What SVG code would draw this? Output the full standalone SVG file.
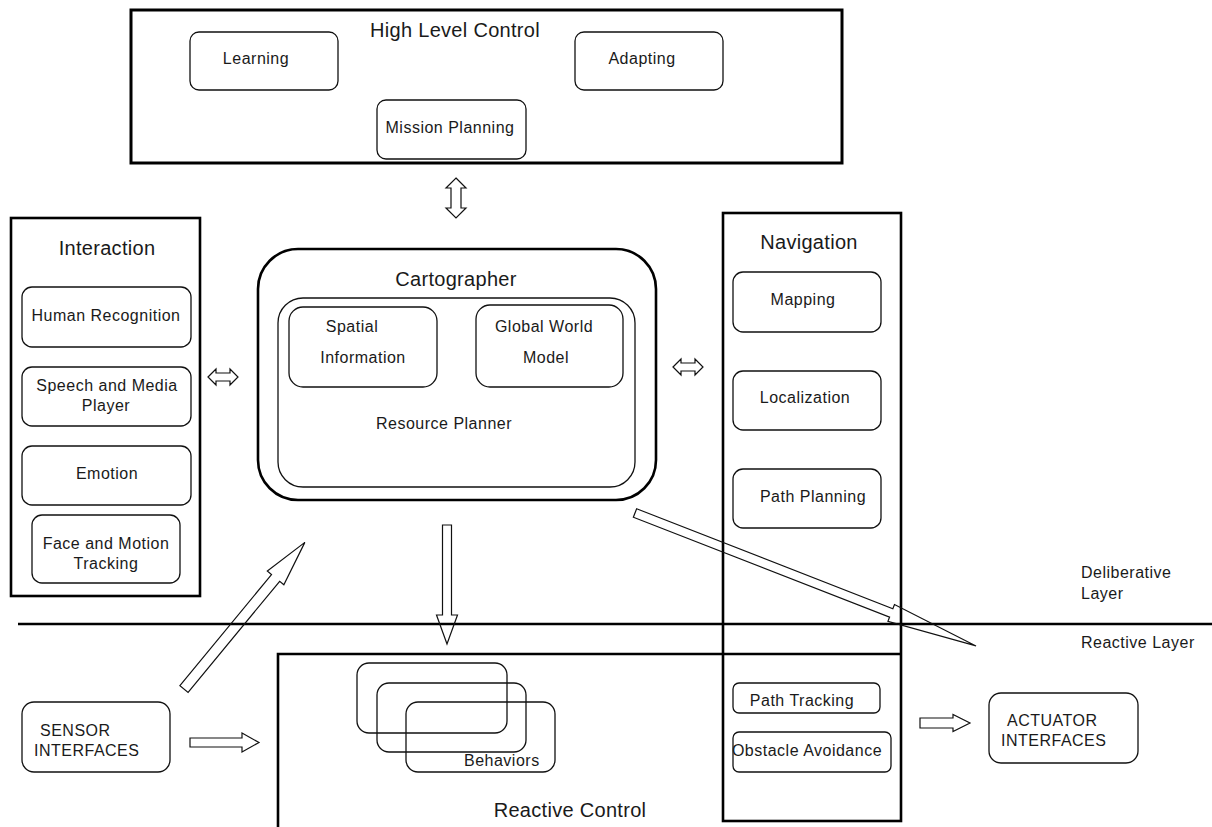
<svg xmlns="http://www.w3.org/2000/svg" width="1212" height="827" viewBox="0 0 1212 827">
  <style>
    .frame { fill: none; stroke: #000; stroke-width: 2.6; }
    .box { fill: none; stroke: #111; stroke-width: 1.3; }
    .rule { stroke: #000; stroke-width: 2.6; fill: none; }
    .arrow { fill: none; stroke: #111; stroke-width: 1.2; stroke-linejoin: miter; }
    text { font-family: "Liberation Sans", Arial, sans-serif; fill: #1a1a1a; dominant-baseline: central; }
    .title { font-size: 20px; letter-spacing: 0.3px; text-anchor: middle; }
    .label { font-size: 16px; letter-spacing: 0.5px; text-anchor: middle; }
    .left { text-anchor: start; }
  </style>
  <rect width="1212" height="827" fill="#fff"/>

  <!-- layer separator and reactive control frame -->
  <g id="layers">
    <line class="rule" x1="18" y1="624" x2="1212" y2="624"/>
    <polyline class="rule" points="278,827 278,654 901,654"/>
    <text class="label left" x="1081" y="572">Deliberative</text>
    <text class="label left" x="1081" y="593">Layer</text>
    <text class="label left" x="1081" y="642">Reactive Layer</text>
    <text class="title" x="570" y="810">Reactive Control</text>
  </g>

  <!-- high level control -->
  <g id="high-level-control">
    <rect class="frame" x="131" y="10" width="711" height="153" style="stroke-width:3"/>
    <text class="title" x="455" y="30">High Level Control</text>
  </g>
  <g id="learning">
    <rect class="box" x="190" y="32" width="148" height="58" rx="9"/>
    <text class="label" x="256" y="58">Learning</text>
  </g>
  <g id="adapting">
    <rect class="box" x="575" y="32" width="148" height="58" rx="9"/>
    <text class="label" x="642" y="58">Adapting</text>
  </g>
  <g id="mission-planning">
    <rect class="box" x="377" y="100" width="149" height="59" rx="9"/>
    <text class="label" x="450" y="127">Mission Planning</text>
  </g>

  <!-- interaction -->
  <g id="interaction">
    <rect class="frame" x="11" y="218" width="189" height="378"/>
    <text class="title" x="107" y="248">Interaction</text>
  </g>
  <g id="human-recognition">
    <rect class="box" x="22" y="287" width="169" height="60" rx="10"/>
    <text class="label" x="106" y="315">Human Recognition</text>
  </g>
  <g id="speech-media">
    <rect class="box" x="22" y="367" width="169" height="59" rx="10"/>
    <text class="label" x="107" y="385">Speech and Media</text>
    <text class="label" x="106" y="405">Player</text>
  </g>
  <g id="emotion">
    <rect class="box" x="22" y="446" width="169" height="59" rx="10"/>
    <text class="label" x="107" y="473">Emotion</text>
  </g>
  <g id="face-motion">
    <rect class="box" x="32" y="515" width="148" height="68" rx="10"/>
    <text class="label" x="106" y="543">Face and Motion</text>
    <text class="label" x="106" y="563">Tracking</text>
  </g>

  <!-- cartographer -->
  <g id="cartographer">
    <rect class="frame" x="258" y="249" width="398" height="251" rx="40"/>
    <text class="title" x="456" y="279">Cartographer</text>
  </g>
  <g id="resource-planner">
    <rect class="box" x="278" y="298" width="357" height="189" rx="25"/>
    <text class="label" x="444" y="423">Resource Planner</text>
  </g>
  <g id="spatial-information">
    <rect class="box" x="289" y="307" width="148" height="80" rx="14"/>
    <text class="label" x="352" y="326">Spatial</text>
    <text class="label" x="363" y="357">Information</text>
  </g>
  <g id="global-world-model">
    <rect class="box" x="476" y="305" width="147" height="82" rx="14"/>
    <text class="label" x="544" y="326">Global World</text>
    <text class="label" x="546" y="357">Model</text>
  </g>

  <!-- navigation -->
  <g id="navigation">
    <rect class="frame" x="723" y="213" width="178" height="608"/>
    <text class="title" x="809" y="242">Navigation</text>
  </g>
  <g id="mapping">
    <rect class="box" x="733" y="272" width="148" height="60" rx="10"/>
    <text class="label" x="803" y="299">Mapping</text>
  </g>
  <g id="localization">
    <rect class="box" x="733" y="371" width="148" height="59" rx="10"/>
    <text class="label" x="805" y="397">Localization</text>
  </g>
  <g id="path-planning">
    <rect class="box" x="733" y="469" width="148" height="59" rx="10"/>
    <text class="label" x="813" y="496">Path Planning</text>
  </g>
  <g id="path-tracking">
    <rect class="box" x="733" y="683" width="147" height="30" rx="6"/>
    <text class="label" x="802" y="700">Path Tracking</text>
  </g>
  <g id="obstacle-avoidance">
    <rect class="box" x="733" y="732" width="158" height="40" rx="6"/>
    <text class="label" x="807" y="750">Obstacle Avoidance</text>
  </g>

  <!-- behaviors -->
  <g id="behaviors">
    <rect class="box" x="357" y="663" width="150" height="70" rx="12"/>
    <rect class="box" x="377" y="683" width="149" height="69" rx="12"/>
    <rect class="box" x="406" y="702" width="149" height="70" rx="12"/>
    <text class="label left" x="464" y="760">Behaviors</text>
  </g>

  <!-- interfaces -->
  <g id="sensor-interfaces">
    <rect class="box" x="22" y="702" width="148" height="70" rx="12"/>
    <text class="label left" x="40" y="730">SENSOR</text>
    <text class="label left" x="34" y="750">INTERFACES</text>
  </g>
  <g id="actuator-interfaces">
    <rect class="box" x="989" y="693" width="149" height="70" rx="12"/>
    <text class="label left" x="1007" y="720">ACTUATOR</text>
    <text class="label left" x="1001" y="740">INTERFACES</text>
  </g>

  <!-- connectors: hollow block arrows -->
  <g id="connectors">
    <polygon class="arrow" points="456,178 466,188 461,188 461,208 466,208 456,218 446,208 451,208 451,188 446,188"/>
    <polygon class="arrow" points="208,377 216,369 216,373 230,373 230,369 238,377 230,385 230,381 216,381 216,385"/>
    <polygon class="arrow" points="673,367 681,359 681,363 695,363 695,359 703,367 695,375 695,371 681,371 681,375"/>
    <polygon class="arrow" transform="translate(447,525) rotate(90)" points="0,-4.5 90,-4.5 90,-10.5 119,0 90,10.5 90,4.5 0,4.5"/>
    <polygon class="arrow" transform="translate(184,689) rotate(-50.5)" points="0,-5.3 144,-5.3 144,-10.7 190,0 144,10.7 144,5.3 0,5.3"/>
    <polygon class="arrow" transform="translate(635,513) rotate(21.3)" points="0,-4.5 275,-4.5 275,-9 366,0 275,9 275,4.5 0,4.5"/>
    <polygon class="arrow" transform="translate(190,742.5)" points="0,-4.5 52,-4.5 52,-9.5 69,0 52,9.5 52,4.5 0,4.5"/>
    <polygon class="arrow" transform="translate(920,723)" points="0,-5 33,-5 33,-8.5 50,0 33,8.5 33,5 0,5"/>
  </g>
</svg>
